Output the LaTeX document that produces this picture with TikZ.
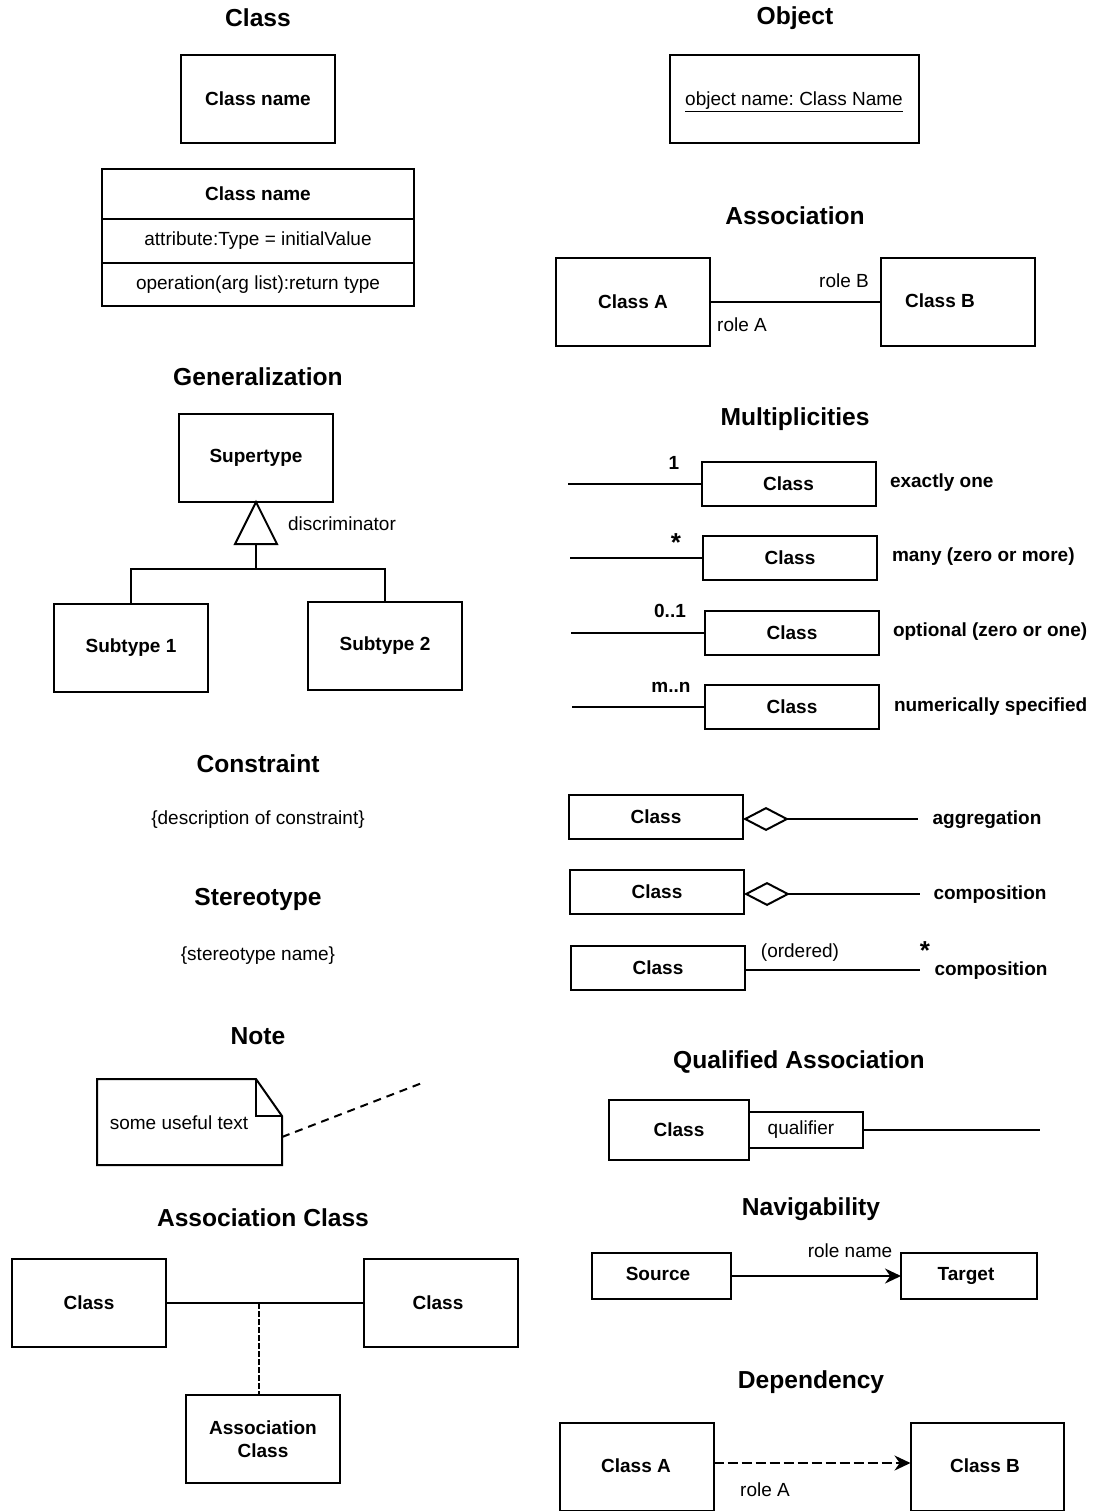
\documentclass[tikz,border=0pt]{standalone}
\usepackage{fontspec}
\setmainfont{Liberation Sans}
\usetikzlibrary{arrows.meta}
\frenchspacing
\begin{document}
\begin{tikzpicture}[x=0.5pt,y=-0.5pt,
  every node/.style={inner sep=0pt, outer sep=0pt},
  title/.style={font=\fontsize{12.3}{14}\selectfont\bfseries},
  txt/.style={font=\fontsize{9.5}{11.5}\selectfont},
  btxt/.style={font=\fontsize{9.5}{11.5}\selectfont\bfseries},
  box/.style={draw, line width=1pt, btxt, align=center, minimum width=77pt, minimum height=44pt},
  sbox/.style={box, minimum width=87pt, minimum height=22pt},
  wire/.style={line width=1pt},
  agg/.style={wire, {Diamond[open, length=23pt, width=12pt, line width=1pt]}-},
  nav/.style={wire, -{Stealth[length=8pt, width=7.5pt]}},
]
\useasboundingbox (0,0) rectangle (1096,1511);

% ---------- titles ----------
\node[title] (tClass) at (258,18) {Class};
\node[title] (tObject) at (795,18) {Object};
\node[title] (tAssoc) at (795,216) {Association};
\node[title] (tGen) at (258,377) {Generalization};
\node[title] (tMult) at (795,419) {Multiplicities};
\node[title] (tCons) at (258,764) {Constraint};
\node[title] (tStereo) at (258,899) {Stereotype};
\node[title] (tNote) at (258,1036) {Note};
\node[title] (tQual) at (799,1062) {Qualified Association};
\node[title] (tAC) at (263,1218) {Association Class};
\node[title] (tNav) at (811,1209) {Navigability};
\node[title] (tDep) at (811,1382) {Dependency};

% ---------- class ----------
\node[box] (cname) at (258,99) {Class name};
\node[box, minimum width=156pt, minimum height=25pt] (chead) at (258,194) {Class name};
\node[box, txt, minimum width=156pt, minimum height=22pt, anchor=north] (cattr) at (chead.south) {attribute:Type = initialValue};
\node[box, txt, minimum width=156pt, minimum height=21.5pt, anchor=north] (cop) at (cattr.south) {operation(arg list):return type};

% ---------- object ----------
\node[box, minimum width=124.5pt] (obj) at (794.5,99) {};
\node[txt, anchor=base] (objtxt) at (794,105) {\underline{object name: Class Name}};

% ---------- association ----------
\node[box] (asA) at (633,302) {Class A};
\node[box] (asB) at (957.5,302) {};
\node[btxt] (asBtext) at (940,301) {Class B};
\draw[wire] (asA.east) -- (asB.west);
\node[txt] (roleB) at (844,281) {role B};
\node[txt] (roleA) at (742,325) {role A};

% ---------- generalization ----------
\node[box] (super) at (256,458) {Supertype};
\node[box] (sub1) at (131,648) {Subtype 1};
\node[box] (sub2) at (385,646) {Subtype 2};
\coordinate (tribase) at (256,545);
\coordinate (junc) at (256,569);
\draw[wire, line join=miter] (super.south) -- ++(-21,42) -- ++(42,0) -- cycle;
\draw[wire] (tribase) -- (junc);
\draw[wire] (junc) -| (sub1.north);
\draw[wire] (junc) -| (sub2.north);
\node[txt] (discr) at (342,524) {discriminator};

% ---------- multiplicities ----------
\node[sbox] (m1) at (788.5,483.5) {Class};
\node[sbox] (m2) at (790,558) {Class};
\node[sbox] (m3) at (792,633) {Class};
\node[sbox] (m4) at (792,707) {Class};
\coordinate (m1l) at (568,483.5);
\coordinate (m2l) at (570,558);
\coordinate (m3l) at (571,633);
\coordinate (m4l) at (572,707);
\draw[wire] (m1l) -- (m1.west);
\draw[wire] (m2l) -- (m2.west);
\draw[wire] (m3l) -- (m3.west);
\draw[wire] (m4l) -- (m4.west);
\node[btxt] (k1) at (674,463) {1};
\node[font=\fontsize{13}{14}\selectfont\bfseries] (k2) at (676,543) {*};
\node[btxt] (k3) at (670,611) {0..1};
\node[btxt] (k4) at (671,687) {m..n};
\node[btxt, anchor=west] (d1) at (890,483) {exactly one};
\node[btxt, anchor=west] (d2) at (892,557) {many (zero or more)};
\node[btxt, anchor=west] (d3) at (893,632) {optional (zero or one)};
\node[btxt, anchor=west] (d4) at (894,707) {numerically specified};

% ---------- constraint / stereotype ----------
\node[txt] (cons) at (258,820) {\{description of constraint\}};
\node[txt] (stereo) at (258,956) {\{stereotype name\}};

% ---------- aggregation / composition ----------
\node[sbox] (ag) at (656,817) {Class};
\coordinate (agend) at (918,819);
\draw[agg] (ag.east |- agend) -- (agend);
\node[btxt] (agtxt) at (987,820) {aggregation};

\node[sbox] (co) at (657,892) {Class};
\coordinate (coend) at (920,894);
\draw[agg] (co.east |- coend) -- (coend);
\node[btxt] (cotxt) at (990,895) {composition};

\node[sbox] (or) at (658,968) {Class};
\coordinate (orend) at (920,970);
\draw[wire] (or.east |- orend) -- (orend);
\node[txt] (ordered) at (800,953) {(ordered)};
\node[font=\fontsize{13}{14}\selectfont\bfseries] (orstar) at (925,951) {*};
\node[btxt] (ortxt) at (991,971) {composition};

% ---------- note ----------
\draw[wire, line join=miter] (97,1079) -- (256,1079) -- (282,1116) -- (282,1165) -- (97,1165) -- cycle;
\draw[wire] (256,1079) -- (256,1116) -- (282,1116);
\node[txt] (notetext) at (179,1123) {some useful text};
\coordinate (notepin) at (282,1137);
\coordinate (noteend) at (422,1083);
\draw[wire, dash pattern=on 4pt off 3pt] (notepin) -- (noteend);

% ---------- qualified association ----------
\node[box, minimum width=70pt, minimum height=30pt] (qc) at (679,1130) {Class};
\node[box, txt, minimum width=57pt, minimum height=18pt] (qual) at (806,1130) {};
\node[txt] (qualtxt) at (801,1130) {qualifier};
\coordinate (qend) at (1040,1130);
\draw[wire] (qual.east) -- (qend);

% ---------- association class ----------
\node[box] (acL) at (89,1303) {Class};
\node[box] (acR) at (441,1303) {};
\node[btxt] (acRtxt) at (438,1303) {Class};
\node[box] (acC) at (263,1439) {Association\\Class};
\draw[wire] (acL.east) -- (acR.west);
\coordinate (acmid) at (259,1303);
\draw[wire, dash pattern=on 3pt off 1pt] (acmid) -- (acmid |- acC.north);

% ---------- navigability ----------
\node[box, minimum width=69.5pt, minimum height=23pt] (src) at (661.5,1276) {};
\node[btxt] (srctxt) at (658,1274) {Source};
\node[box, minimum width=68pt, minimum height=23pt] (tgt) at (969,1276) {};
\node[btxt] (tgttxt) at (966,1276) {Target};
\draw[nav] (src.east) -- (tgt.west);
\node[txt] (rolename) at (850,1251) {role name};

% ---------- dependency ----------
\node[box] (depA) at (636.5,1467) {};
\node[btxt] (depAtxt) at (636,1466) {Class A};
\node[box, minimum width=76.5pt] (depB) at (987,1467) {};
\node[btxt] (depBtxt) at (985,1466) {Class B};
\draw[nav, dash pattern=on 5pt off 2pt] ([yshift=2pt]depA.east) -- ([yshift=2pt]depB.west);
\node[txt] (depRole) at (765,1490) {role A};

\end{tikzpicture}
\end{document}
